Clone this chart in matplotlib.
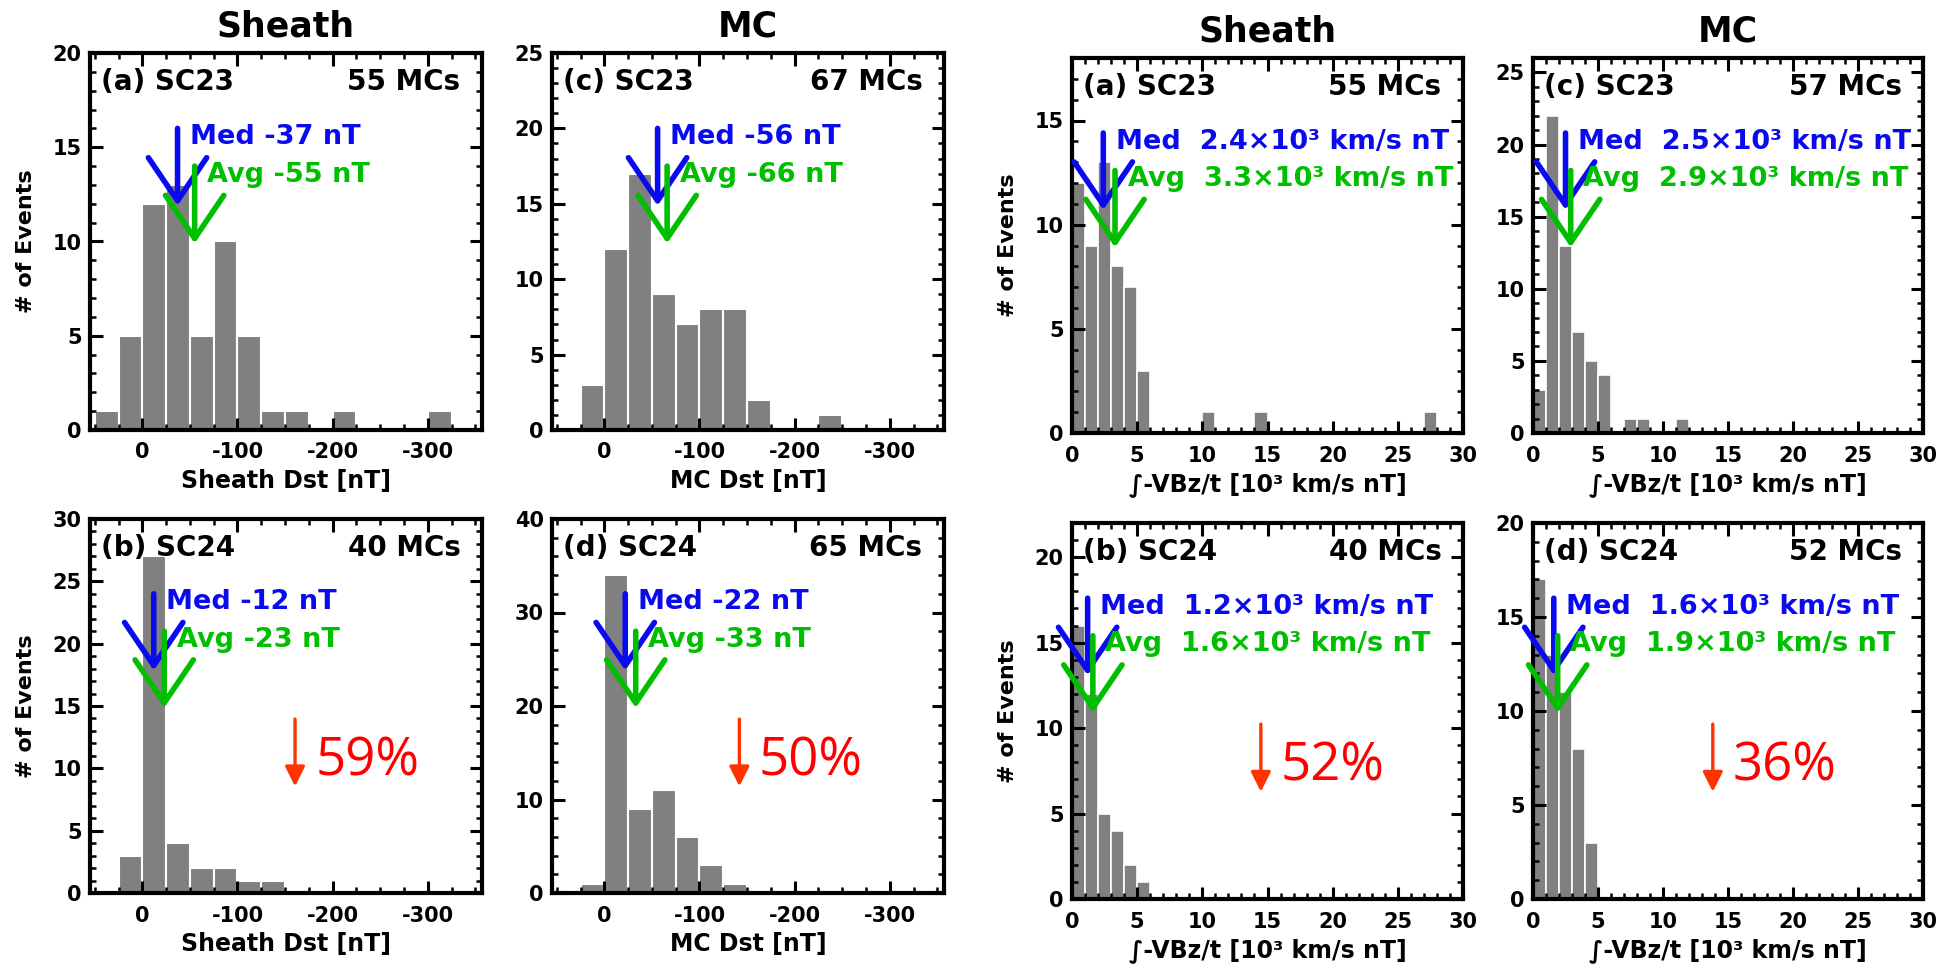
import numpy as np
import matplotlib
matplotlib.use("Agg")
import matplotlib.pyplot as plt
from matplotlib.ticker import MultipleLocator

plt.rcParams['font.family'] = ['DejaVu Sans']
plt.rcParams['font.weight'] = 'bold'
plt.rcParams['axes.titleweight'] = 'bold'
plt.rcParams['axes.labelweight'] = 'bold'
plt.rcParams['axes.unicode_minus'] = False

# Dst histograms, 25 nT bins (centres)
dst_bins = [37.5, 12.5, -12.5, -37.5, -62.5, -87.5, -112.5, -137.5, -162.5,
            -187.5, -212.5, -237.5, -262.5, -287.5, -312.5]
sheath23_dst = [1, 5, 12, 13, 5, 10, 5, 1, 1, 0, 1, 0, 0, 0, 1]
mc23_dst = [0, 3, 12, 17, 9, 7, 8, 8, 2, 0, 0, 1, 0, 0, 0]
sheath24_dst = [0, 3, 27, 4, 2, 2, 1, 1, 0, 0, 0, 0, 0, 0, 0]
mc24_dst = [0, 1, 34, 9, 11, 6, 3, 1, 0, 0, 0, 0, 0, 0, 0]

# integrated -VBz/t histograms, 1e3 km/s nT bins (centres)
vbz_bins = [0.5, 1.5, 2.5, 3.5, 4.5, 5.5, 6.5, 7.5, 8.5, 9.5, 10.5, 11.5, 12.5, 13.5, 14.5,
            15.5, 16.5, 17.5, 18.5, 19.5, 20.5, 21.5, 22.5, 23.5, 24.5, 25.5, 26.5, 27.5, 28.5, 29.5]
sheath23_vbz = [12, 9, 13, 8, 7, 3, 0, 0, 0, 0, 1, 0, 0, 0, 1,
                0, 0, 0, 0, 0, 0, 0, 0, 0, 0, 0, 0, 1, 0, 0]
mc23_vbz = [3, 22, 13, 7, 5, 4, 0, 1, 1, 0, 0, 1, 0, 0, 0,
            0, 0, 0, 0, 0, 0, 0, 0, 0, 0, 0, 0, 0, 0, 0]
sheath24_vbz = [16, 12, 5, 4, 2, 1, 0, 0, 0, 0, 0, 0, 0, 0, 0,
                0, 0, 0, 0, 0, 0, 0, 0, 0, 0, 0, 0, 0, 0, 0]
mc24_vbz = [17, 13, 11, 8, 3, 0, 0, 0, 0, 0, 0, 0, 0, 0, 0,
            0, 0, 0, 0, 0, 0, 0, 0, 0, 0, 0, 0, 0, 0, 0]

dst_med = [-37, -56, -12, -22]
dst_avg = [-55, -66, -23, -33]
vbz_med = [2.4, 2.5, 1.2, 1.6]
vbz_avg = [3.3, 2.9, 1.6, 1.9]
panel_labels = ['(a) SC23', '(c) SC23', '(b) SC24', '(d) SC24']
dst_counts = ['55 MCs', '67 MCs', '40 MCs', '65 MCs']
vbz_counts = ['55 MCs', '57 MCs', '40 MCs', '52 MCs']
drops_dst = ['59%', '50%']
drops_vbz = ['52%', '36%']

BLUE = '#0A0AF0'
GREEN = '#00BE00'
GRAY = '#808080'

W, H = 1942, 973
fig = plt.figure(figsize=(W / 100, H / 100), dpi=100)


def box(x0, y0, x1, y1):
    return [x0 / W, 1 - y1 / H, (x1 - x0) / W, (y1 - y0) / H]


def style(ax, ymax, ymaj, ymin):
    ax.set_ylim(0, ymax)
    ax.yaxis.set_major_locator(MultipleLocator(ymaj))
    ax.yaxis.set_minor_locator(MultipleLocator(ymin))
    ax.tick_params(which='both', direction='in', top=True, right=True,
                   labelsize=15, width=2.2)
    ax.tick_params(which='major', length=9)
    ax.tick_params(which='minor', length=4.5, width=1.8)
    ax.tick_params(axis='x', pad=9)
    ax.tick_params(axis='y', pad=6)
    for sp in ax.spines.values():
        sp.set_linewidth(3)


def arrows(ax, med, avg, medtxt, avgtxt):
    for x, y0, y1, c, t in [(med, 0.80, 0.595, BLUE, medtxt), (avg, 0.70, 0.495, GREEN, avgtxt)]:
        ax.annotate('', xy=(x, y1), xycoords=('data', 'axes fraction'),
                    xytext=(x, y0), textcoords=('data', 'axes fraction'),
                    arrowprops=dict(arrowstyle='->,head_length=0.62,head_width=0.42',
                                    lw=4, color=c, shrinkA=0, shrinkB=0,
                                    mutation_scale=50), zorder=5)
        ax.annotate(t, xy=(x, y0 - 0.023), xycoords=('data', 'axes fraction'),
                    xytext=(9, 0), textcoords='offset points', color=c,
                    fontsize=19.5, va='center', ha='left', zorder=6)


def labels(ax, lab, cnt):
    ax.text(0.028, 0.923, lab, transform=ax.transAxes, fontsize=20, va='center', ha='left')
    ax.text(0.945, 0.923, cnt, transform=ax.transAxes, fontsize=20, va='center', ha='right')


def drop(ax, xa, xt, txt):
    ax.annotate('', xy=(xa, 0.285), xycoords='axes fraction', xytext=(xa, 0.465),
                arrowprops=dict(arrowstyle='-|>,head_length=0.6,head_width=0.3',
                                lw=2.4, color='#FF3300', shrinkA=0, shrinkB=0,
                                mutation_scale=20))
    ax.text(xt, 0.352, txt, transform=ax.transAxes, fontsize=38, color='#FF0000',
            family='Open Sans', fontweight='normal', va='center', ha='left')


# ---- Dst panels ----
dst_pos = [(90, 53, 482, 430), (552, 53, 944, 430), (90, 519, 482, 893), (552, 519, 944, 893)]
dst_data = [sheath23_dst, mc23_dst, sheath24_dst, mc24_dst]
dst_ylim = [(20, 5, 1), (25, 5, 1), (30, 5, 1), (40, 10, 2)]
dst_xlab = ['Sheath Dst [nT]', 'MC Dst [nT]', 'Sheath Dst [nT]', 'MC Dst [nT]']
for i in range(4):
    ax = fig.add_axes(box(*dst_pos[i]))
    ax.bar(dst_bins, dst_data[i], width=25, color=GRAY, edgecolor='white', linewidth=1.5)
    ax.set_xlim(55, -357)
    ax.set_xticks([0, -100, -200, -300])
    ax.xaxis.set_minor_locator(MultipleLocator(25))
    style(ax, *dst_ylim[i])
    ax.set_xlabel(dst_xlab[i], fontsize=17, labelpad=5)
    if i % 2 == 0:
        ax.set_ylabel('# of Events', fontsize=16, labelpad=12)
    if i < 2:
        ax.set_title(['Sheath', 'MC'][i], fontsize=25, pad=12)
    labels(ax, panel_labels[i], dst_counts[i])
    arrows(ax, dst_med[i], dst_avg[i], f'Med {dst_med[i]} nT', f'Avg {dst_avg[i]} nT')
    if i == 2:
        drop(ax, 0.523, 0.575, drops_dst[0])
    if i == 3:
        drop(ax, 0.478, 0.528, drops_dst[1])

# ---- integrated VBz panels ----
vbz_pos = [(1072, 58, 1463, 433), (1533, 58, 1923, 433), (1072, 523, 1463, 899), (1533, 523, 1923, 899)]
vbz_data = [sheath23_vbz, mc23_vbz, sheath24_vbz, mc24_vbz]
vbz_ylim = [(18, 5, 1), (26, 5, 1), (22, 5, 1), (20, 5, 1)]
for i in range(4):
    ax = fig.add_axes(box(*vbz_pos[i]))
    ax.bar(vbz_bins, vbz_data[i], width=1, color=GRAY, edgecolor='white', linewidth=1.2)
    ax.set_xlim(0, 30)
    ax.xaxis.set_major_locator(MultipleLocator(5))
    ax.xaxis.set_minor_locator(MultipleLocator(1))
    style(ax, *vbz_ylim[i])
    ax.set_xlabel('∫-VBz/t [10³ km/s nT]', fontsize=17, labelpad=5)
    if i % 2 == 0:
        ax.set_ylabel('# of Events', fontsize=16, labelpad=12)
    if i < 2:
        ax.set_title(['Sheath', 'MC'][i], fontsize=25, pad=12)
    labels(ax, panel_labels[i], vbz_counts[i])
    arrows(ax, vbz_med[i], vbz_avg[i],
           f'Med  {vbz_med[i]}×10³ km/s nT', f'Avg  {vbz_avg[i]}×10³ km/s nT')
    if i == 2:
        drop(ax, 0.483, 0.533, drops_vbz[0])
    if i == 3:
        drop(ax, 0.461, 0.511, drops_vbz[1])

fig.savefig('out.png', dpi=100)
